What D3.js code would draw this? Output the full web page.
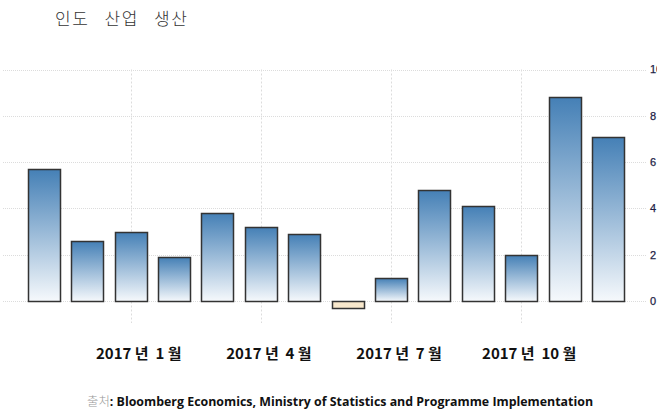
<!DOCTYPE html>
<html>
<head>
<meta charset="utf-8">
<script src="https://cdn.jsdelivr.net/npm/d3@7"></script>
<style>
  body { margin: 0; background: #fff; }
  svg { display: block; }
</style>
</head>
<body>
<div id="chart"></div>
<script>
// monthly industrial production, Nov 2016 .. Dec 2017
const months = ["2016-11", "2016-12", "2017-01", "2017-02", "2017-03", "2017-04", "2017-05",
  "2017-06", "2017-07", "2017-08", "2017-09", "2017-10", "2017-11", "2017-12"];
const values = [5.7, 2.6, 3.0, 1.9, 3.8, 3.2, 2.9, -0.3, 1.0, 4.8, 4.1, 2.0, 8.8, 7.1];
const yTicks = [0, 2, 4, 6, 8, 10];
const xTickMonths = ["2017-01", "2017-04", "2017-07", "2017-10"];
const xTickLabels = ["2017 년  1 월", "2017 년  4 월", "2017 년  7 월", "2017 년  10 월"];
const title = "인도 산업 생산";
const sourceLabel = "출처";
const sourceText = ": Bloomberg Economics, Ministry of Statistics and Programme Implementation";

const W = 657, H = 412;

const svg = d3.select("#chart").append("svg")
  .attr("width", W)
  .attr("height", H);

const defs = svg.append("defs");
const grad = defs.append("linearGradient")
  .attr("id", "barGrad")
  .attr("x1", 0).attr("y1", 0).attr("x2", 0).attr("y2", 1);
grad.append("stop").attr("offset", "0%").attr("stop-color", "#4580b6");
grad.append("stop").attr("offset", "100%").attr("stop-color", "#f6f9fc");

const x = d3.scaleBand()
  .domain(months)
  .range([22.3, 629.7])
  .paddingInner(0.26)
  .paddingOuter(0.13);

const y = d3.scaleLinear()
  .domain([0, 10])
  .range([301, 69.5]);

// grid
const grid = svg.append("g");
grid.selectAll("line.h")
  .data(yTicks)
  .join("line")
  .attr("class", "h")
  .attr("x1", 3).attr("x2", 647)
  .attr("y1", d => Math.round(y(d)) + 0.5)
  .attr("y2", d => Math.round(y(d)) + 0.5)
  .attr("stroke", "#dcdcdc")
  .attr("stroke-dasharray", "1,1");

grid.selectAll("line.v")
  .data(xTickMonths)
  .join("line")
  .attr("class", "v")
  .attr("x1", d => Math.round(x(d) + x.bandwidth() / 2) + 0.5)
  .attr("x2", d => Math.round(x(d) + x.bandwidth() / 2) + 0.5)
  .attr("y1", y(10))
  .attr("y2", 323)
  .attr("stroke", "#dcdcdc")
  .attr("stroke-dasharray", "2,2");

// bars
svg.append("g")
  .selectAll("rect")
  .data(months.map((m, i) => ({ m, v: values[i] })))
  .join("rect")
  .attr("x", d => Math.round(x(d.m)) + 0.5)
  .attr("width", Math.round(x.bandwidth()))
  .attr("y", d => Math.round(y(Math.max(0, d.v))) + 0.5)
  .attr("height", d => Math.max(1, Math.round(Math.abs(y(d.v) - y(0)))))
  .attr("fill", d => d.v < 0 ? "#f8e8cc" : "url(#barGrad)")
  .attr("stroke", "#333")
  .attr("stroke-width", 1.5);

// y axis labels (right side, the 10 is clipped by the edge like in the original)
svg.append("g")
  .selectAll("text")
  .data(yTicks)
  .join("text")
  .attr("x", 650)
  .attr("y", d => y(d))
  .attr("dy", "0.35em")
  .attr("font-family", "Liberation Sans, Arial, sans-serif")
  .attr("font-size", 11)
  .attr("fill", "#1e1e46")
  .attr("stroke", "#1e1e46")
  .attr("stroke-width", 0.25)
  .text(d => d);

// x axis labels
svg.append("g")
  .selectAll("text")
  .data(xTickMonths)
  .join("text")
  .attr("x", d => x(d) + x.bandwidth() / 2 + 8)
  .attr("y", 354)
  .attr("dy", "0.35em")
  .attr("text-anchor", "middle")
  .attr("font-family", "Noto Sans CJK KR, sans-serif")
  .attr("font-weight", "bold")
  .attr("font-size", 15)
  .attr("fill", "#111")
  .style("white-space", "pre")
  .text((d, i) => xTickLabels[i]);

// title
svg.append("text")
  .attr("x", 55)
  .attr("y", 19)
  .attr("dy", "0.35em")
  .attr("font-family", "Noto Sans CJK KR, sans-serif")
  .attr("font-size", 17)
  .attr("font-weight", 300)
  .attr("fill", "#333")
  .attr("letter-spacing", 1.5)
  .attr("word-spacing", 10)
  .text(title);

// source
const src = svg.append("text")
  .attr("x", 87)
  .attr("y", 402)
  .attr("dy", "0.35em")
  .attr("font-size", 12.4);
src.append("tspan")
  .attr("font-family", "Noto Sans CJK KR, sans-serif")
  .attr("font-weight", 300)
  .attr("fill", "#999")
  .text(sourceLabel);
src.append("tspan")
  .attr("font-family", "Open Sans, sans-serif")
  .attr("font-weight", "bold")
  .attr("fill", "#111")
  .text(sourceText);
</script>
</body>
</html>
